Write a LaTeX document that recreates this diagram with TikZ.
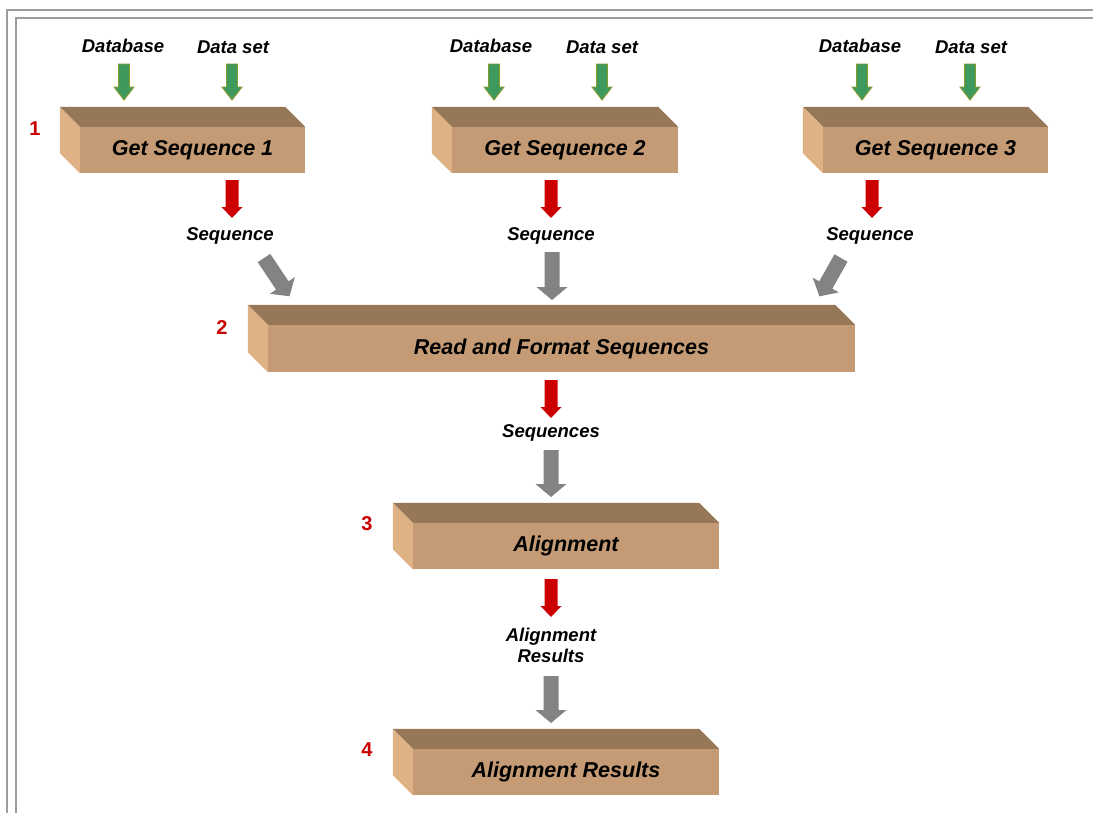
\documentclass[tikz,border=0pt]{standalone}
\usepackage{fontspec}
\setmainfont{Liberation Sans}
\usetikzlibrary{calc}
\definecolor{topface}{HTML}{967858}
\definecolor{frontface}{HTML}{C49B74}
\definecolor{sideface}{HTML}{DEB284}
\definecolor{inred}{HTML}{CC0000}
\definecolor{ingreen}{HTML}{3D9A5C}
\definecolor{ingreenrim}{HTML}{8C9A2E}
\definecolor{ingray}{HTML}{838383}
\definecolor{framegray}{HTML}{9C9C9C}

% block arrow: #1 style, #2 start, #3 angle, #4 length, #5 half shaft, #6 half head, #7 head length
\newcommand\blockarrow[7]{%
  \path[#1, shift={#2}, rotate=#3] (-#5,0) -- (#5,0) -- (#5,{#4-#7}) -- (#6,{#4-#7})
    -- (0,#4) -- (-#6,{#4-#7}) -- (-#5,{#4-#7}) -- cycle;}

% top and left faces of a 3D slab whose front face is node #1
\newcommand\slabfaces[1]{%
  \fill[topface] ($(#1.north west)+(-20,-20)$) -- ($(#1.north east)+(-20,-20)$)
    -- (#1.north east) -- (#1.north west) -- cycle;
  \fill[sideface] ($(#1.north west)+(-20,-20)$) -- (#1.north west)
    -- (#1.south west) -- ($(#1.south west)+(-20,-20)$) -- cycle;}

\tikzset{
  slab/.style={fill=frontface, inner sep=0pt, minimum height=46pt,
    font=\fontsize{21.5}{25}\selectfont\bfseries\itshape},
  lbl/.style={font=\fontsize{18.5}{22}\selectfont\bfseries\itshape, inner sep=0pt,
    align=center},
  stepnum/.style={text=inred, font=\fontsize{20}{22}\selectfont\bfseries, inner sep=0pt},
  greenarrow/.style={fill=ingreen, draw=ingreenrim, line width=0.9pt},
  redarrow/.style={fill=inred},
  grayarrow/.style={fill=ingray},
}

\begin{document}
\begin{tikzpicture}[x=1pt, y=-1pt]
\useasboundingbox (0,0) rectangle (1093,812);
\clip (0,0) rectangle (1093,812);
\fill[white] (0,0) rectangle (1093,812);

% double frame
\draw[framegray, line width=2pt] (6.5,9.5) rectangle (1120,840);
\draw[framegray, line width=2pt] (15.5,18) rectangle (1120,840);

% slabs (front faces)
\node[slab, minimum width=225pt] (g1) at (192.5,150) {Get Sequence 1};
\node[slab, minimum width=226pt] (g2) at (565,150) {Get Sequence 2};
\node[slab, minimum width=225pt] (g3) at (935.5,150) {Get Sequence 3};
\node[slab, minimum width=587pt, minimum height=47pt] (rf) at (561.5,348.5) {Read and Format Sequences};
\node[slab, minimum width=306pt] (al) at (566,546) {Alignment};
\node[slab, minimum width=306pt] (ar) at (566,772) {Alignment Results};
\slabfaces{g1}\slabfaces{g2}\slabfaces{g3}
\slabfaces{rf}\slabfaces{al}\slabfaces{ar}

% step numbers
\node[stepnum] (n1) at (35,129) {1};
\node[stepnum] (n2) at (222,328) {2};
\node[stepnum] (n3) at (367,524) {3};
\node[stepnum] (n4) at (367,750) {4};

% inputs
\node[lbl] (db1) at (123,46) {Database};
\node[lbl] (ds1) at (233,47) {Data set};
\node[lbl] (db2) at (491,46) {Database};
\node[lbl] (ds2) at (602,47) {Data set};
\node[lbl] (db3) at (860,46) {Database};
\node[lbl] (ds3) at (971,47) {Data set};

% outputs
\node[lbl] (s1) at (230,236) {Sequence};
\node[lbl] (s2) at (551,236) {Sequence};
\node[lbl] (s3) at (870,236) {Sequence};
\node[lbl] (ss) at (551,433) {Sequences};
\node[lbl, text depth=0pt] (res) at (551,645) {Alignment\\[-1pt]Results};

% arrow start points
\coordinate (a1) at (124,64);  \coordinate (a2) at (232,64);
\coordinate (a3) at (494,64);  \coordinate (a4) at (602,64);
\coordinate (a5) at (862,64);  \coordinate (a6) at (970,64);
\coordinate (r1) at (232,180); \coordinate (r2) at (551,180);
\coordinate (r3) at (872,180); \coordinate (r4) at (551,380);
\coordinate (r5) at (551,579);
\coordinate (k1) at (264,258); \coordinate (k2) at (552,252);
\coordinate (k3) at (841,258); \coordinate (k4) at (551,450);
\coordinate (k5) at (551,676);

% green: sources into each fetch step
\foreach \p in {a1,a2,a3,a4,a5,a6}{%
  \blockarrow{greenarrow}{(\p)}{0}{36}{5.5}{10}{13}}

% red: products of each step
\foreach \p in {r1,r2,r3,r4,r5}{%
  \blockarrow{redarrow}{(\p)}{0}{38}{6.5}{10.5}{11}}

% gray: products fed into the next step
\blockarrow{grayarrow}{(k1)}{33.7}{46}{7.5}{15}{13}
\blockarrow{grayarrow}{(k2)}{0}{48}{7.5}{15.5}{13}
\blockarrow{grayarrow}{(k3)}{-29.4}{44}{7.5}{15}{13}
\blockarrow{grayarrow}{(k4)}{0}{47}{7.5}{15.5}{13}
\blockarrow{grayarrow}{(k5)}{0}{47}{7.5}{15.5}{13}
\end{tikzpicture}
\end{document}
